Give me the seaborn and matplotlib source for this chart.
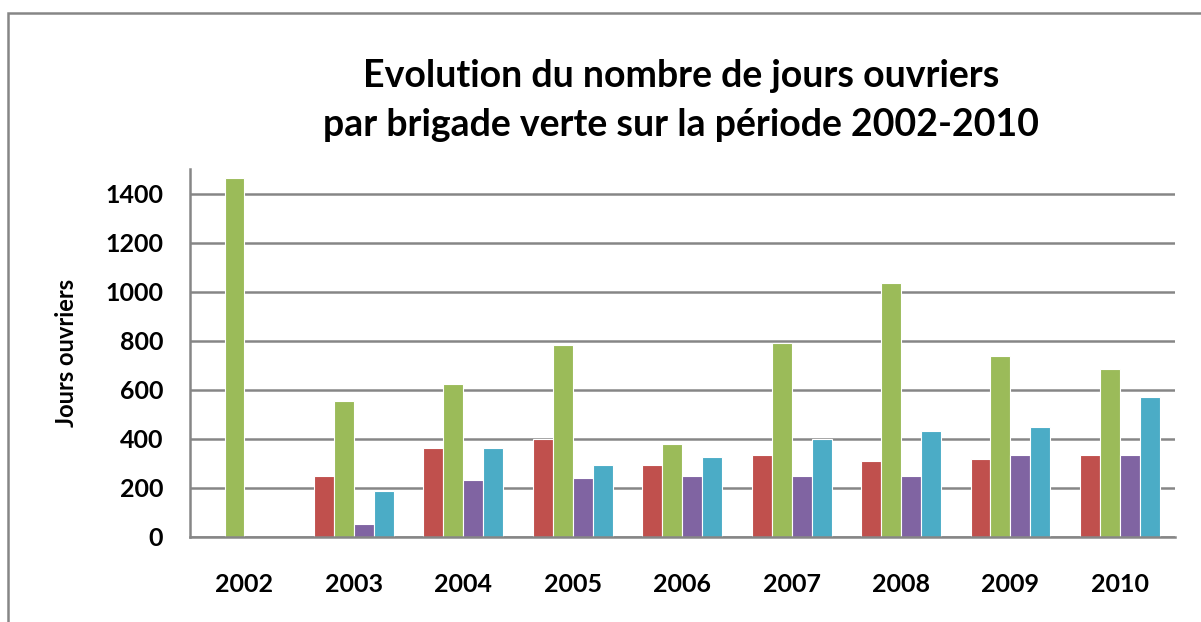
import numpy as np
import pandas as pd
import seaborn as sns
import matplotlib.pyplot as plt
from matplotlib.patches import Rectangle

# values
years = ['2002', '2003', '2004', '2005', '2006', '2007', '2008', '2009', '2010']
brigade_a = [np.nan, 248, 362, 397, 293, 335, 309, 317, 335]
brigade_b = [1462, 554, 623, 781, 378, 790, 1035, 737, 684]
brigade_c = [np.nan, 54, 230, 238, 248, 248, 248, 335, 335]
brigade_d = [np.nan, 186, 362, 293, 327, 397, 431, 449, 571]
series_names = ['Brigade A', 'Brigade B', 'Brigade C', 'Brigade D']
colors = ['#C0504D', '#9BBB59', '#8064A2', '#4BACC6']

df = pd.DataFrame({
    'annee': years * 4,
    'jours': brigade_a + brigade_b + brigade_c + brigade_d,
    'brigade': [n for n in series_names for _ in years],
})

sns.set_style('white')
plt.rcParams['font.family'] = ['Lato', 'DejaVu Sans']
plt.rcParams['font.weight'] = 'bold'
plt.rcParams['text.color'] = 'black'
plt.rcParams['xtick.color'] = 'black'
plt.rcParams['ytick.color'] = 'black'
plt.rcParams['axes.labelcolor'] = 'black'

fig = plt.figure(figsize=(12.01, 6.22), dpi=100)
ax = fig.add_axes([0.158, 0.137, 0.82, 0.591])

sns.barplot(data=df, x='annee', y='jours', hue='brigade', order=years,
            hue_order=series_names, palette=colors, saturation=1, width=0.73,
            edgecolor='white', linewidth=0.8, legend=False, ax=ax)

ax.set_ylim(0, 1500)
ax.set_xlim(-0.5, 8.5)
ax.set_yticks(range(0, 1401, 200))
ax.yaxis.grid(True, color='#868686', linewidth=1.8)
ax.set_axisbelow(True)
for s in ['top', 'right']:
    ax.spines[s].set_visible(False)
for s in ['left', 'bottom']:
    ax.spines[s].set_color('#868686')
    ax.spines[s].set_linewidth(1.8)
ax.tick_params(axis='y', length=5, width=1.5, color='#868686', labelcolor='black',
               labelsize=18, pad=14)
ax.tick_params(axis='x', length=0, labelsize=18, pad=26)
for lab in ax.get_xticklabels() + ax.get_yticklabels():
    lab.set_fontweight('bold')

ax.set_xlabel('')
ax.set_ylabel('Jours ouvriers', fontsize=17, fontweight='bold', labelpad=20)

fig.text(0.567, 0.838, 'Evolution du nombre de jours ouvriers\npar brigade verte sur la période 2002-2010',
         ha='center', va='center', fontsize=27, fontweight='bold', linespacing=1.55)

# outer chart frame
fig.patches.append(Rectangle((8 / 1201, -0.05), 1.2, 1.05 - 13 / 622,
                             transform=fig.transFigure, fill=False,
                             edgecolor='#868686', linewidth=1.8))

fig.savefig('out.png', dpi=100)
